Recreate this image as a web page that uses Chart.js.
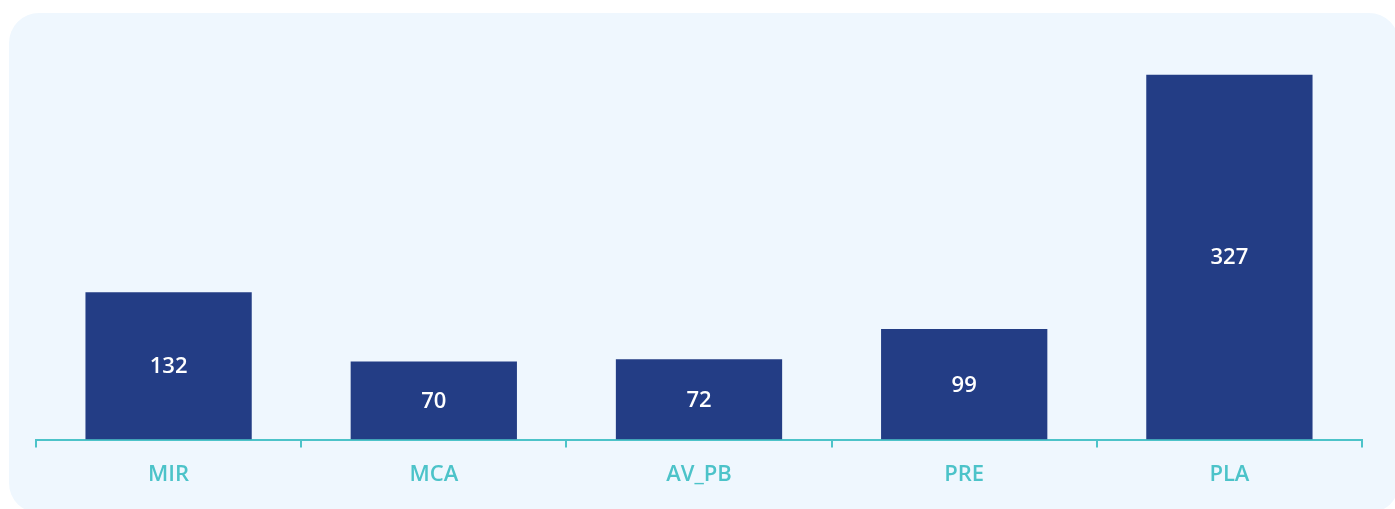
<!DOCTYPE html>
<html>
<head>
<meta charset="utf-8">
<script src="https://cdn.jsdelivr.net/npm/chart.js@4"></script>
<style>
  html, body { margin: 0; padding: 0; background: #ffffff; }
  #panel {
    position: absolute; left: 9px; top: 13px; width: 1390px; height: 500px;
    background: #eff7fe; border-radius: 30px;
  }
  #wrap { position: absolute; left: 0; top: 0; width: 1395px; height: 509px; }
</style>
</head>
<body>
<div id="panel"></div>
<div id="wrap"><canvas id="chart"></canvas></div>
<script>
const categories = ['MIR', 'MCA', 'AV_PB', 'PRE', 'PLA'];
const counts = [132, 70, 72, 99, 327];

const barColor = '#233d85';
const teal = '#4cc3c9';

// writes each value in the middle of its bar
const valueLabels = {
  id: 'valueLabels',
  afterDatasetsDraw(chart) {
    const { ctx } = chart;
    const meta = chart.getDatasetMeta(0);
    ctx.save();
    ctx.fillStyle = '#ffffff';
    ctx.font = '600 22px "Open Sans"';
    ctx.textAlign = 'center';
    ctx.textBaseline = 'middle';
    meta.data.forEach((bar, i) => {
      const midY = (bar.y + bar.base) / 2;
      ctx.fillText(String(counts[i]), bar.x, midY + 1);
    });
    ctx.restore();
  }
};

new Chart(document.getElementById('chart'), {
  type: 'bar',
  data: {
    labels: categories,
    datasets: [{
      data: counts,
      backgroundColor: barColor,
      categoryPercentage: 1,
      barPercentage: 0.627
    }]
  },
  options: {
    responsive: true,
    maintainAspectRatio: false,
    animation: false,
    layout: { padding: { left: 36, right: 33, top: 49, bottom: 7 } },
    plugins: {
      legend: { display: false },
      tooltip: { enabled: false }
    },
    scales: {
      y: { display: false, min: 0, max: 350 },
      x: {
        border: { color: teal, width: 2 },
        grid: {
          offset: true,
          drawOnChartArea: false,
          drawTicks: true,
          tickLength: 8,
          color: teal,
          lineWidth: 2
        },
        ticks: {
          color: teal,
          padding: 14,
          font: { family: '"Open Sans"', size: 22, weight: '600' }
        }
      }
    }
  },
  plugins: [valueLabels]
});
</script>
</body>
</html>
